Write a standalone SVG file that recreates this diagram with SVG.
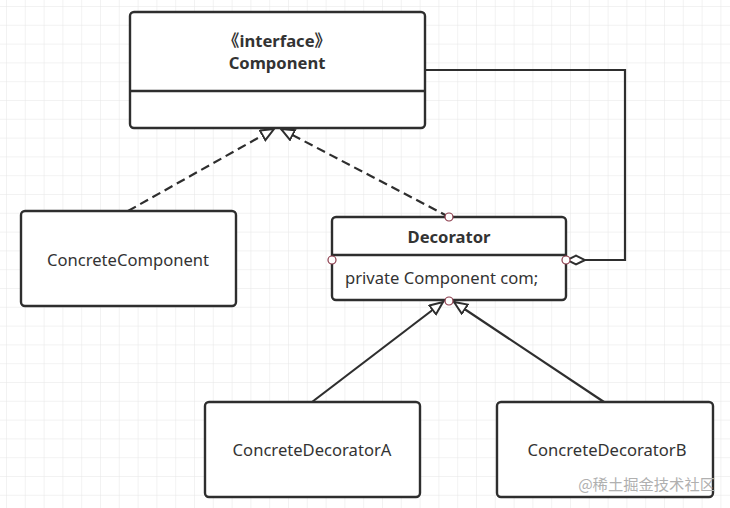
<svg xmlns="http://www.w3.org/2000/svg" width="730" height="508" viewBox="0 0 730 508">
<defs>
<pattern id="grid" x="6" y="6" width="18.8" height="18.8" patternUnits="userSpaceOnUse">
<path d="M0,0 L18.8,0 M0,0 L0,18.8" stroke="#e6e6e6" stroke-width="1" fill="none"/>
</pattern>
<marker id="tri" markerUnits="userSpaceOnUse" markerWidth="17" markerHeight="15" refX="14" refY="6.5" orient="auto">
<path d="M1,1 L14,6.5 L1,12 Z" fill="#fff" stroke="#2e2e2e" stroke-width="2" stroke-linejoin="miter"/>
</marker>
<marker id="dia" markerUnits="userSpaceOnUse" markerWidth="22" markerHeight="12" refX="20" refY="6" orient="auto">
<path d="M2,6 L11,1.5 L20,6 L11,10.5 Z" fill="#fff" stroke="#2e2e2e" stroke-width="2"/>
</marker>
</defs>
<style>
.box{fill:#fff;stroke:#2e2e2e;stroke-width:2.4}
.div{stroke:#2e2e2e;stroke-width:2.4}
.t{font-family:"Noto Sans","Noto Sans CJK SC",sans-serif;font-size:16.6px;fill:#333}
.b{font-weight:bold}
.c{fill:#fff;stroke:#8b3a4a;stroke-width:1.2}
.ln{fill:none;stroke:#2e2e2e;stroke-width:2.2}
.dash{stroke-dasharray:9,5}
</style>
<rect width="730" height="508" fill="#fff"/>
<rect width="730" height="508" fill="url(#grid)"/>

<g id="connectors">
<line class="ln dash" x1="128" y1="211" x2="274" y2="129" marker-end="url(#tri)"/>
<line class="ln dash" x1="449" y1="217" x2="281" y2="129" marker-end="url(#tri)"/>
<line class="ln" x1="312" y1="402" x2="443" y2="302" marker-end="url(#tri)"/>
<line class="ln" x1="604" y1="402" x2="454" y2="302" marker-end="url(#tri)"/>
<path class="ln" d="M426,70 L625,70 L625,260 L567,260" marker-end="url(#dia)"/>
</g>

<g id="component">
<rect class="box" x="130" y="12" width="295" height="116" rx="4"/>
<line class="div" x1="130" y1="91" x2="425" y2="91"/>
<text class="t b" x="277" y="47" text-anchor="middle">《interface》</text>
<text class="t b" x="277" y="69" text-anchor="middle">Component</text>
</g>

<g id="concreteComponent">
<rect class="box" x="21" y="211" width="215" height="95" rx="4"/>
<text class="t" x="128" y="266" text-anchor="middle">ConcreteComponent</text>
</g>

<g id="decorator">
<rect class="box" x="332" y="217" width="234" height="83" rx="4"/>
<line class="div" x1="332" y1="255" x2="566" y2="255"/>
<text class="t b" x="449" y="243" text-anchor="middle">Decorator</text>
<text class="t" x="345" y="284">private Component com;</text>
<circle class="c" cx="449" cy="217" r="4"/>
<circle class="c" cx="332" cy="260" r="4"/>
<circle class="c" cx="566" cy="260" r="4"/>
<circle class="c" cx="449" cy="301" r="4"/>
</g>

<g id="concreteDecoratorA">
<rect class="box" x="205" y="402" width="215" height="95" rx="4"/>
<text class="t" x="312" y="456" text-anchor="middle">ConcreteDecoratorA</text>
</g>

<g id="concreteDecoratorB">
<rect class="box" x="497" y="402" width="216" height="95" rx="4"/>
<text class="t" x="607" y="456" text-anchor="middle">ConcreteDecoratorB</text>
</g>

<text x="715" y="490" text-anchor="end" font-family="Noto Sans CJK SC, sans-serif" font-size="15.3" fill="#b0b0b0">@稀土掘金技术社区</text>
</svg>
